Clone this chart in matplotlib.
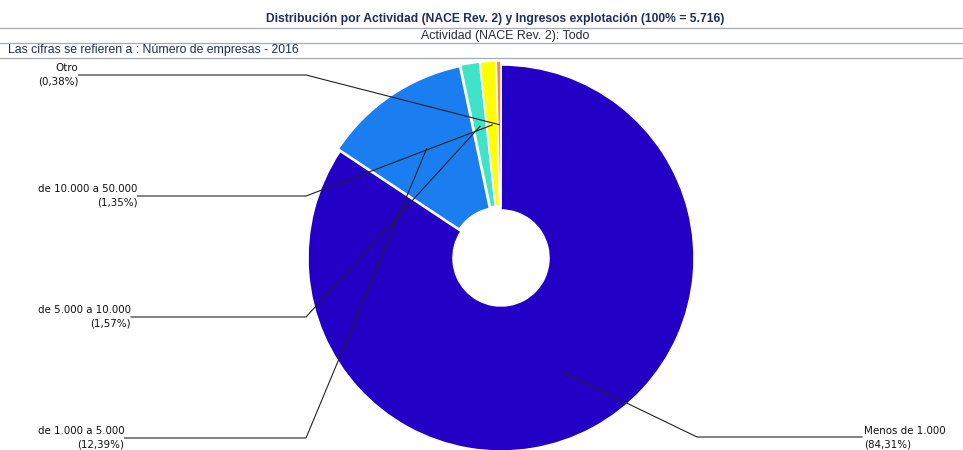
import matplotlib
matplotlib.use("Agg")
import matplotlib.pyplot as plt
import numpy as np

# Data
labels = ["Menos de 1.000", "de 1.000 a 5.000", "de 5.000 a 10.000",
          "de 10.000 a 50.000", "Otro"]
shares = [84.31, 12.39, 1.57, 1.35, 0.38]
pct_text = ["(84,31%)", "(12,39%)", "(1,57%)", "(1,35%)", "(0,38%)"]
colors = ["#2200c6", "#1a7ef0", "#3fe3c8", "#ffff00", "#ff8a1c"]

title = "Distribución por Actividad (NACE Rev. 2) y Ingresos explotación (100% = 5.716)"
subtitle = "Actividad (NACE Rev. 2): Todo"
note = "Las cifras se refieren a : Número de empresas - 2016"

W, H = 963, 450
fig = plt.figure(figsize=(W / 100, H / 100), dpi=100)
ax = fig.add_axes([0, 0, 1, 1])

# pie geometry (pixels, y up)
cx, cy = 501, H - 258
R = 193
hole = 48
explode = [0, 3, 4, 4, 4]

wedges, _ = ax.pie(shares, colors=colors, startangle=90, counterclock=False,
                   center=(cx, cy), radius=R, explode=explode,
                   wedgeprops=dict(width=R - hole, edgecolor="white", linewidth=1.1))
ax.set_xlim(0, W)
ax.set_ylim(0, H)
ax.set_aspect("auto")
ax.axis("off")

# header
hdr = "#1f2d5c"
arial = ["Liberation Sans", "DejaVu Sans"]
ax.text(495, H - 19, title, ha="center", va="center", fontsize=8.7,
        fontweight="bold", color=hdr, family=arial)
ax.text(505, H - 36, subtitle, ha="center", va="center", fontsize=8.9,
        color="#2a2a3a", family=arial)
ax.text(8, H - 50, note, ha="left", va="center", fontsize=8.85,
        color=hdr, family=arial)
for yl in [28, 43, 58]:
    ax.plot([0, W], [H - yl, H - yl], color="#a3abbb", lw=0.9)

# labels with leader lines
line_y = {0: 437, 1: 438, 2: 317, 3: 196, 4: 75}
cum = np.cumsum([0] + shares) / sum(shares)
fig.canvas.draw()
for i, lab in enumerate(labels):
    th = np.deg2rad(90 - 360 * (cum[i] + cum[i + 1]) / 2)
    ax_x = cx + explode[i] * np.cos(th) + 0.67 * R * np.cos(th)
    ax_y = cy + explode[i] * np.sin(th) + 0.67 * R * np.sin(th)
    ly = H - line_y[i]
    if i == 0:
        elbow = 697
        ax.text(864, ly - 1, lab + "\n" + pct_text[i], ha="left", va="center",
                fontsize=7.4, color="#111111", linespacing=1.4)
        ax.plot([ax_x, elbow, 862], [ax_y, ly, ly], color="#222222", lw=0.8)
    else:
        elbow = 306
        t = ax.text(38, ly, lab + "\n" + pct_text[i], ha="left", va="center",
                    fontsize=7.4, color="#111111", multialignment="right",
                    linespacing=1.4)
        bb = t.get_window_extent(renderer=fig.canvas.get_renderer())
        ax.plot([bb.x1, elbow, ax_x], [ly, ly, ax_y], color="#222222", lw=0.8)

fig.savefig("out.png", dpi=100)
